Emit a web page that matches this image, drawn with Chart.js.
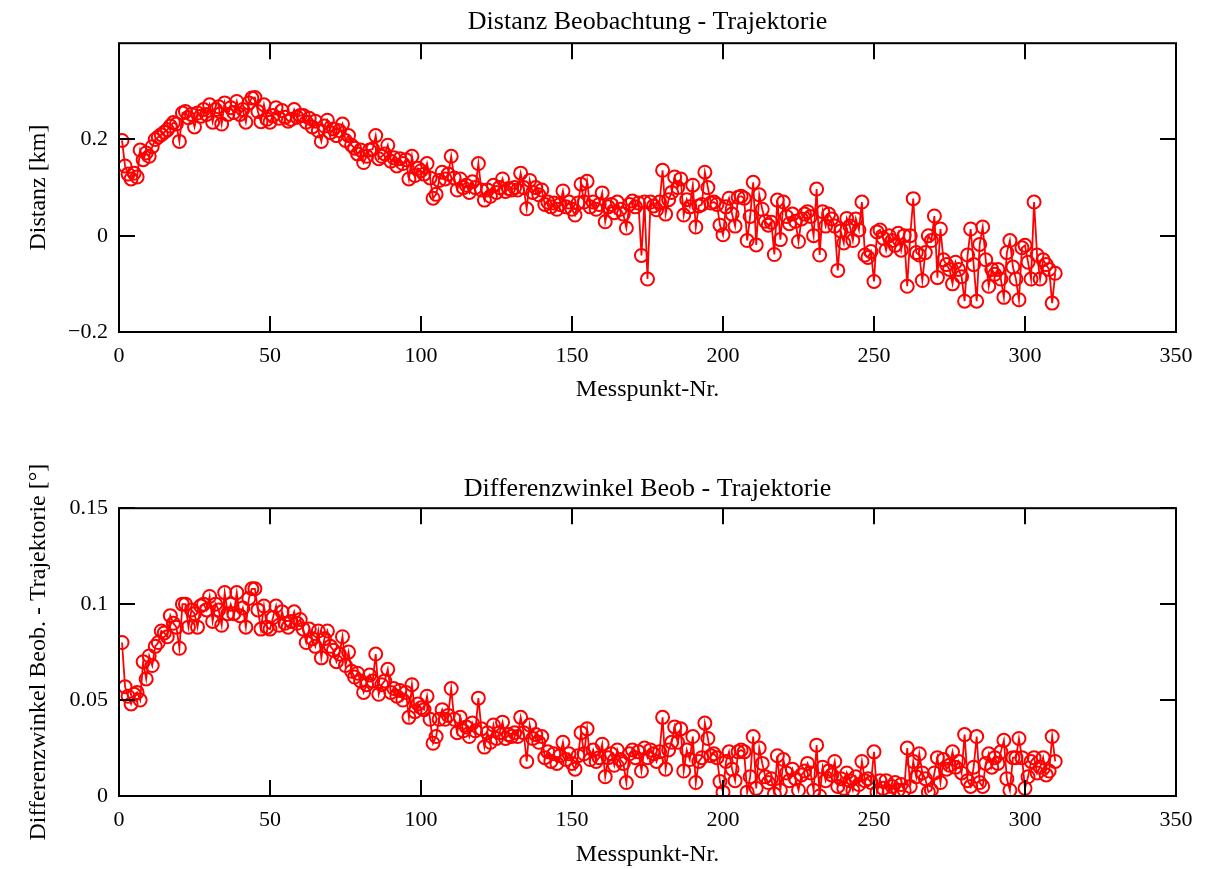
<!DOCTYPE html>
<html>
<head>
<meta charset="utf-8">
<script src="https://cdn.jsdelivr.net/npm/chart.js@4.4.0/dist/chart.umd.min.js"></script>
<style>
body { margin: 0; background: #fff; }
canvas { position: absolute; left: 0; }
#distChart { top: 0; }
#winkelChart { top: 434px; }
</style>
</head>
<body>
<canvas id="distChart" width="1224" height="434"></canvas>
<canvas id="winkelChart" width="1224" height="435"></canvas>
<script>
// Messpunkt-Nr. 1..310
var messpunkt = [];
for (var i = 1; i <= 310; i++) messpunkt.push(i);

// Distanz Beobachtung - Trajektorie [km]
var distanz = [
  0.198, 0.145, 0.128, 0.118, 0.13, 0.122, 0.178, 0.158, 0.172, 0.165,
  0.185, 0.2, 0.205, 0.21, 0.215, 0.22, 0.228, 0.235, 0.232, 0.196,
  0.255, 0.258, 0.245, 0.252, 0.226, 0.255, 0.248, 0.262, 0.252, 0.272,
  0.236, 0.262, 0.268, 0.232, 0.276, 0.252, 0.266, 0.256, 0.279, 0.252,
  0.262, 0.236, 0.276, 0.286, 0.287, 0.258, 0.237, 0.272, 0.242, 0.236,
  0.25, 0.266, 0.244, 0.26, 0.246, 0.238, 0.242, 0.262, 0.246, 0.25,
  0.25, 0.236, 0.244, 0.226, 0.238, 0.218, 0.196, 0.228, 0.24, 0.214,
  0.222, 0.208, 0.218, 0.232, 0.198, 0.208, 0.188, 0.182, 0.17, 0.178,
  0.152, 0.165, 0.178, 0.18, 0.208, 0.16, 0.165, 0.17, 0.188, 0.155,
  0.162, 0.145, 0.16, 0.15, 0.158, 0.118, 0.165, 0.125, 0.14, 0.135,
  0.128, 0.15, 0.12, 0.078, 0.086, 0.115, 0.132, 0.118, 0.128, 0.165,
  0.12, 0.095, 0.118, 0.1, 0.105, 0.09, 0.112, 0.1, 0.15, 0.095,
  0.074, 0.095, 0.082, 0.105, 0.09, 0.1, 0.118, 0.092, 0.098, 0.095,
  0.1, 0.095, 0.13, 0.1, 0.056, 0.115, 0.09, 0.1, 0.085, 0.095,
  0.065, 0.07, 0.06, 0.068, 0.055, 0.065, 0.093, 0.06, 0.07, 0.055,
  0.043, 0.068, 0.107, 0.07, 0.113, 0.06, 0.07, 0.055, 0.065, 0.089,
  0.029, 0.06, 0.065, 0.048, 0.07, 0.055, 0.045, 0.016, 0.065, 0.072,
  0.06, 0.068, -0.041, 0.07, -0.09, 0.07, 0.062, 0.054, 0.07, 0.136,
  0.045, 0.075, 0.09, 0.122, 0.1, 0.118, 0.043, 0.075, 0.06, 0.105,
  0.018, 0.062, 0.065, 0.132, 0.1, 0.068, 0.07, 0.065, 0.022, 0.002,
  0.06, 0.078, 0.045, 0.02, 0.08, 0.082, 0.078, -0.01, 0.04, 0.111,
  -0.019, 0.085, 0.055, 0.03, 0.022, 0.028, -0.039, 0.074, -0.008, 0.07,
  0.04, 0.025, 0.045, 0.03, -0.012, 0.035, 0.045, 0.05, 0.04, 0.0,
  0.097, -0.04, 0.05, 0.02, 0.045, 0.035, 0.02, -0.072, 0.01, -0.015,
  0.036, 0.02, -0.01, 0.035, 0.012, 0.07, -0.04, -0.045, -0.033, -0.095,
  0.008, 0.012, -0.005, -0.03, 0.0, -0.01, -0.02, 0.005, -0.03, 0.0,
  -0.105, 0.0, 0.077, -0.035, -0.04, -0.093, -0.035, 0.0, -0.01, 0.041,
  -0.087, 0.014, -0.05, -0.06, -0.07, -0.1, -0.055, -0.07, -0.085, -0.136,
  -0.04, 0.014, -0.06, -0.136, -0.018, 0.018, -0.05, -0.105, -0.07, -0.08,
  -0.07, -0.09, -0.128, -0.035, -0.01, -0.065, -0.09, -0.133, -0.025, -0.02,
  -0.055, -0.09, 0.07, -0.04, -0.09, -0.05, -0.06, -0.07, -0.14, -0.078
];

// Differenzwinkel Beob. - Trajektorie [°]
var winkel = [
  0.08, 0.057, 0.052, 0.048, 0.053, 0.054, 0.05, 0.07, 0.061, 0.073,
  0.068, 0.078, 0.08, 0.086, 0.085, 0.083, 0.094, 0.09, 0.088, 0.077,
  0.1, 0.1, 0.088, 0.097, 0.095, 0.088, 0.099, 0.1, 0.097, 0.104,
  0.091, 0.1, 0.097, 0.089, 0.106, 0.095, 0.1, 0.095, 0.106, 0.094,
  0.098, 0.088, 0.103, 0.108, 0.108, 0.097, 0.087, 0.099, 0.088, 0.087,
  0.093, 0.099, 0.089, 0.096, 0.09, 0.088, 0.091, 0.096, 0.09, 0.092,
  0.087, 0.08, 0.087, 0.082, 0.078, 0.086, 0.072, 0.082, 0.086, 0.078,
  0.076, 0.07, 0.074, 0.083, 0.068, 0.075, 0.065, 0.062, 0.064, 0.06,
  0.054, 0.058, 0.063, 0.06, 0.074, 0.053, 0.058, 0.06, 0.066, 0.054,
  0.056, 0.052, 0.055, 0.05, 0.054, 0.041, 0.058, 0.044, 0.048, 0.046,
  0.045, 0.052, 0.04, 0.0275, 0.031, 0.04, 0.045, 0.04, 0.042, 0.056,
  0.04, 0.033, 0.041, 0.034, 0.036, 0.031, 0.038, 0.034, 0.051, 0.035,
  0.0255, 0.033, 0.028, 0.037, 0.03, 0.033, 0.0385, 0.03, 0.032, 0.031,
  0.033, 0.031, 0.041, 0.033, 0.018, 0.037, 0.03, 0.032, 0.028, 0.031,
  0.02, 0.023, 0.018, 0.022, 0.017, 0.021, 0.028, 0.019, 0.022, 0.017,
  0.014, 0.021, 0.033, 0.022, 0.035, 0.019, 0.024, 0.018, 0.02, 0.027,
  0.01, 0.02, 0.022, 0.016, 0.024, 0.019, 0.017, 0.007, 0.022, 0.024,
  0.02, 0.023, 0.013, 0.025, 0.02, 0.024, 0.022, 0.018, 0.023, 0.041,
  0.014, 0.024, 0.028, 0.036, 0.028, 0.035, 0.013, 0.024, 0.019, 0.031,
  0.007, 0.018, 0.02, 0.038, 0.03, 0.021, 0.022, 0.02, 0.0075, 0.002,
  0.018, 0.023, 0.014, 0.008, 0.023, 0.024, 0.023, 0.002, 0.01, 0.031,
  0.004, 0.025, 0.017, 0.01, 0.007, 0.009, 0.001, 0.021, 0.003, 0.019,
  0.012, 0.008, 0.014, 0.009, 0.003, 0.011, 0.013, 0.017, 0.012, 0.003,
  0.0265, 0.0, 0.015, 0.008, 0.013, 0.011, 0.018, 0.005, 0.009, 0.004,
  0.012, 0.008, 0.003, 0.01, 0.006, 0.018, 0.008, 0.009, 0.007, 0.023,
  0.002, 0.008, 0.004, 0.008, 0.002, 0.005, 0.007, 0.003, 0.006, 0.003,
  0.025, 0.005, 0.018, 0.01, 0.022, 0.012, 0.009, 0.002, 0.003, 0.012,
  0.02, 0.007, 0.019, 0.014, 0.016, 0.023, 0.015, 0.018, 0.012, 0.032,
  0.008, 0.005, 0.015, 0.031, 0.007, 0.005, 0.017, 0.022, 0.015, 0.02,
  0.017, 0.023, 0.029, 0.009, 0.003, 0.02, 0.02, 0.03, 0.02, 0.004,
  0.01, 0.018, 0.02, 0.012, 0.015, 0.02, 0.011, 0.013, 0.031, 0.018
];

var xTicks = [0, 50, 100, 150, 200, 250, 300, 350];
var yTicksDistanz = [-0.2, 0, 0.2];
var yTicksWinkel = [0, 0.05, 0.1, 0.15];

var serif = "'Liberation Serif', 'Times New Roman', serif";
Chart.defaults.font.family = serif;
Chart.defaults.color = '#000';

function fmt(v) {
  return v < 0 ? '\u2212' + Math.abs(v) : String(v);
}

// box around plot area with ticks pointing inward on all four sides
var frameTicks = {
  id: 'frameTicks',
  afterDraw: function(chart) {
    var a = chart.chartArea, ctx = chart.ctx, len = 16;
    var sx = chart.scales.x, sy = chart.scales.y;
    ctx.save();
    ctx.strokeStyle = '#000';
    ctx.lineWidth = 2;
    ctx.beginPath();
    sx.ticks.forEach(function(t) {
      var px = Math.round(sx.getPixelForValue(t.value));
      ctx.moveTo(px, a.bottom); ctx.lineTo(px, a.bottom - len);
      ctx.moveTo(px, a.top); ctx.lineTo(px, a.top + len);
    });
    sy.ticks.forEach(function(t) {
      var py = Math.round(sy.getPixelForValue(t.value));
      ctx.moveTo(a.left, py); ctx.lineTo(a.left + len, py);
      ctx.moveTo(a.right, py); ctx.lineTo(a.right - len, py);
    });
    ctx.stroke();
    ctx.strokeRect(a.left, a.top, a.right - a.left, a.bottom - a.top);
    ctx.restore();
  }
};

function makeChart(id, values, yMin, yMax, yTicks, title, yTitle, titlePad, xHeight, padBottom) {
  var pts = messpunkt.map(function(m, k) { return {x: m, y: values[k]}; });
  return new Chart(document.getElementById(id), {
    type: 'line',
    data: {
      datasets: [{
        data: pts,
        borderColor: '#ff0000',
        borderWidth: 1.8,
        pointStyle: 'circle',
        pointRadius: 6.5,
        pointBorderWidth: 2,
        pointBackgroundColor: 'rgba(0,0,0,0)',
        pointBorderColor: '#ff0000',
        tension: 0,
        clip: 1
      }]
    },
    options: {
      responsive: false,
      animation: false,
      events: [],
      layout: { padding: { left: 0, right: 48, top: 0, bottom: padBottom } },
      plugins: {
        legend: { display: false },
        tooltip: { enabled: false },
        title: {
          display: true,
          fullSize: false,
          text: title,
          font: { size: 26, weight: 'normal' },
          color: '#000',
          padding: titlePad
        }
      },
      scales: {
        x: {
          type: 'linear',
          min: 0,
          max: 350,
          afterBuildTicks: function(s) { s.ticks = xTicks.map(function(v) { return {value: v}; }); },
          afterFit: function(s) { s.height = xHeight; },
          grid: { display: false, drawTicks: false },
          border: { display: false },
          ticks: { font: { size: 22 }, padding: 11, maxRotation: 0, autoSkip: false, callback: function(v) { return fmt(v); } },
          title: { display: true, text: 'Messpunkt-Nr.', font: { size: 24 }, padding: 0 }
        },
        y: {
          type: 'linear',
          min: yMin,
          max: yMax,
          afterBuildTicks: function(s) { s.ticks = yTicks.map(function(v) { return {value: v}; }); },
          afterFit: function(s) { s.width = 119; },
          grid: { display: false, drawTicks: false },
          border: { display: false },
          ticks: { font: { size: 22 }, padding: 11, callback: function(v) { return fmt(v); } },
          title: { display: true, text: yTitle, font: { size: 24 }, padding: { top: 24, bottom: 0 } }
        }
      }
    },
    plugins: [frameTicks]
  });
}

makeChart('distChart', distanz, -0.2, 0.4, yTicksDistanz,
  'Distanz Beobachtung - Trajektorie', 'Distanz [km]',
  { top: 7, bottom: 5 }, 72, 30);

makeChart('winkelChart', winkel, 0, 0.15, yTicksWinkel,
  'Differenzwinkel Beob - Trajektorie', 'Differenzwinkel Beob. - Trajektorie [\u00b0]',
  { top: 40, bottom: 3 }, 73, 0);
</script>
</body>
</html>
